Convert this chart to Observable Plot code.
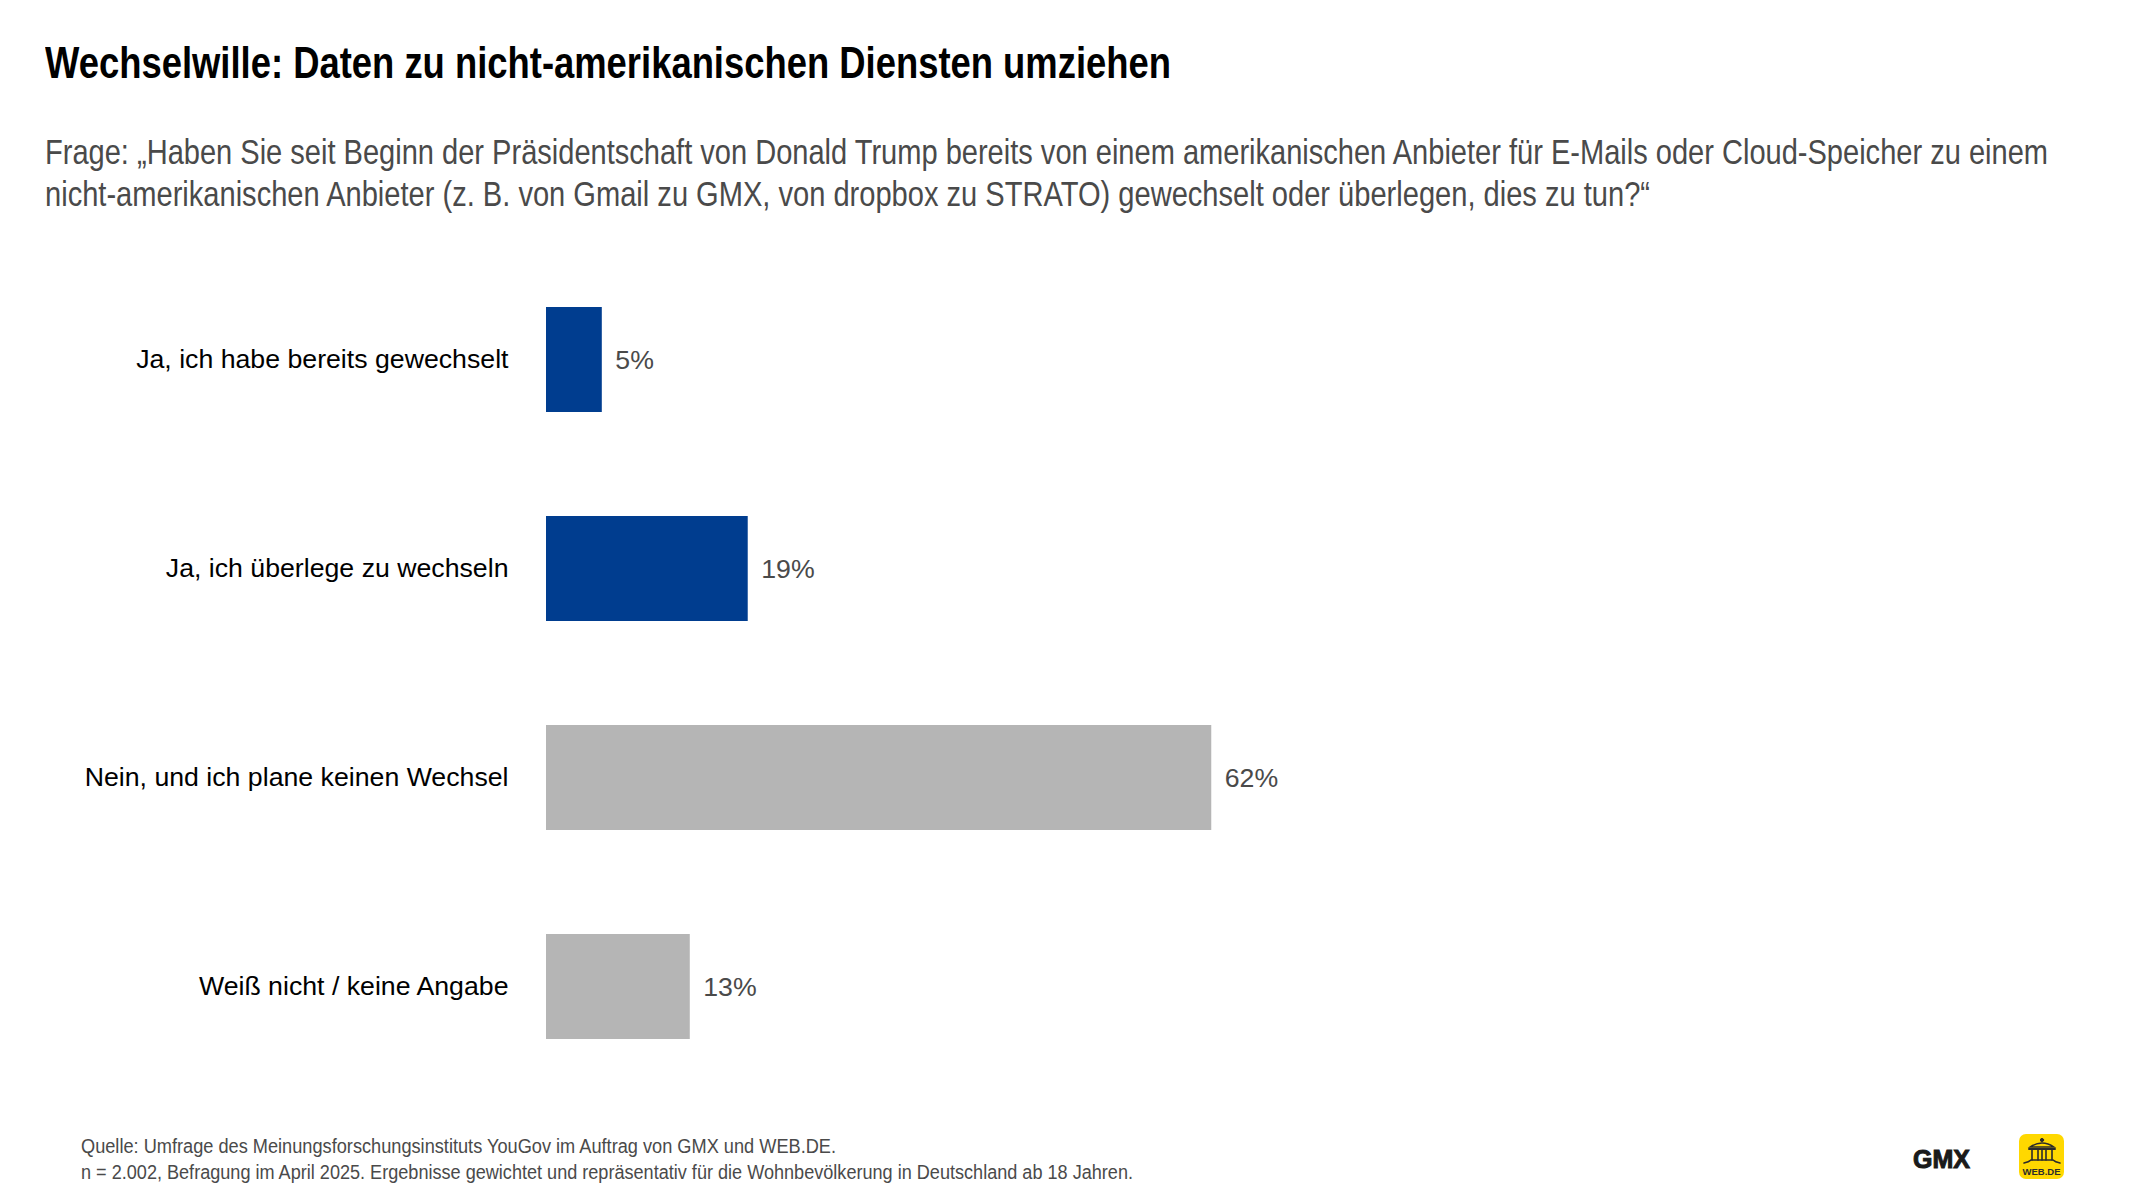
<!DOCTYPE html>
<html lang="de">
<head>
<meta charset="utf-8">
<script src="https://cdn.jsdelivr.net/npm/d3@7"></script>
<script src="https://cdn.jsdelivr.net/npm/@observablehq/plot@0.6"></script>
<style>
  html, body { margin: 0; padding: 0; background: #fff; font-family: "Liberation Sans", Arial, sans-serif; }
  #page { width: 2133px; height: 1200px; position: relative; overflow: hidden; }
  #header { position: relative; height: 254px; }
  #chart { height: 837px; }
  #chart svg { display: block; }
  #footer { position: relative; height: 109px; }
  .line { position: absolute; white-space: nowrap; transform-origin: 0 0; line-height: 1; }
  .title { font-weight: 700; font-size: 44px; color: #000; left: 45px; }
  .sub { font-size: 35px; color: #4a4a4a; left: 45px; }
  .cap { font-size: 19.5px; color: #4a4a4a; left: 81px; }
  #gmx { position: absolute; left: 1913px; top: 59px; font-weight: 900; font-size: 25px; line-height: 18px; color: #1a1a1a; -webkit-text-stroke: 1px #1a1a1a; white-space: nowrap; }
  #webde { position: absolute; left: 2019px; top: 43px; width: 45px; height: 45px; }
</style>
</head>
<body>
<div id="page">
  <div id="header"></div>
  <div id="chart"></div>
  <div id="footer">
    <div id="gmx">GMX</div>
    <svg id="webde" viewBox="0 0 45 45">
      <rect width="45" height="45" rx="7" fill="#FFD800"/>
      <g fill="#2b2b2b" stroke="#2b2b2b" stroke-width="1" stroke-linecap="round">
        <circle cx="23" cy="6" r="1.6"/>
        <path d="M11 13 Q23 5 35 13 Z" fill="#FFD800" stroke-width="1.4"/>
        <path d="M10 15 H36" stroke-width="2"/>
        <path d="M13 16 V26 M19 16 V26 M23 16 V26 M27 16 V26 M33 16 V26" stroke-width="1.6"/>
        <path d="M5 29 Q10 28 12 26 H34 Q36 28 41 29" fill="none" stroke-width="1.6"/>
      </g>
      <text x="22.5" y="41" text-anchor="middle" font-family="Liberation Sans" font-weight="700" font-size="9.5" fill="#2b2b2b">WEB.DE</text>
    </svg>
  </div>
</div>
<script>
const categories = ["Ja, ich habe bereits gewechselt", "Ja, ich überlege zu wechseln", "Nein, und ich plane keinen Wechsel", "Weiß nicht / keine Angabe"];
const values = [5.2, 18.8, 62, 13.4];
const valueLabels = ["5%", "19%", "62%", "13%"];
const barColors = ["#003D8F", "#003D8F", "#B5B5B5", "#B5B5B5"];
const titleText = "Wechselwille: Daten zu nicht-amerikanischen Diensten umziehen";
const subtitleLines = [
  "Frage: „Haben Sie seit Beginn der Präsidentschaft von Donald Trump bereits von einem amerikanischen Anbieter für E-Mails oder Cloud-Speicher zu einem",
  "nicht-amerikanischen Anbieter (z. B. von Gmail zu GMX, von dropbox zu STRATO) gewechselt oder überlegen, dies zu tun?“"
];
const captionLines = [
  "Quelle: Umfrage des Meinungsforschungsinstituts YouGov im Auftrag von GMX und WEB.DE.",
  "n = 2.002, Befragung im April 2025. Ergebnisse gewichtet und repräsentativ für die Wohnbevölkerung in Deutschland ab 18 Jahren."
];
const rows = categories.map((category, i) => ({category, value: values[i], label: valueLabels[i], color: barColors[i]}));

function addLine(parent, cls, text, top, targetWidth) {
  const el = document.createElement("div");
  el.className = "line " + cls;
  el.textContent = text;
  el.style.top = top + "px";
  parent.appendChild(el);
  const w = el.getBoundingClientRect().width;
  el.style.transform = `scaleX(${targetWidth / w})`;
}
const header = document.getElementById("header");
addLine(header, "title", titleText, 41, 1126);
addLine(header, "sub", subtitleLines[0], 134, 2003);
addLine(header, "sub", subtitleLines[1], 176, 1605);
const footer = document.getElementById("footer");
addLine(footer, "cap", captionLines[0], 46, 755);
addLine(footer, "cap", captionLines[1], 71.5, 1052);

const chart = Plot.plot({
  width: 2133,
  height: 837,
  marginLeft: 546,
  marginRight: 514,
  marginTop: 0,
  marginBottom: 0,
  style: {fontFamily: "'Liberation Sans', Arial, sans-serif", background: "transparent"},
  x: {domain: [0, 100], axis: null},
  y: {domain: categories, paddingInner: 0.5, paddingOuter: 0.25, label: null},
  marks: [
    Plot.barX(rows, {y: "category", x: "value", fill: "color"}),
    Plot.text(rows, {x: "value", y: "category", text: "label", textAnchor: "start", dx: 13, fontSize: 26.7, fill: "#4a4a4a"}),
    Plot.axisY({tickSize: 0, tickPadding: 38, fontSize: 26.7, fill: "#000", label: null, dy: -1})
  ]
});
document.getElementById("chart").appendChild(chart);
</script>
</body>
</html>
